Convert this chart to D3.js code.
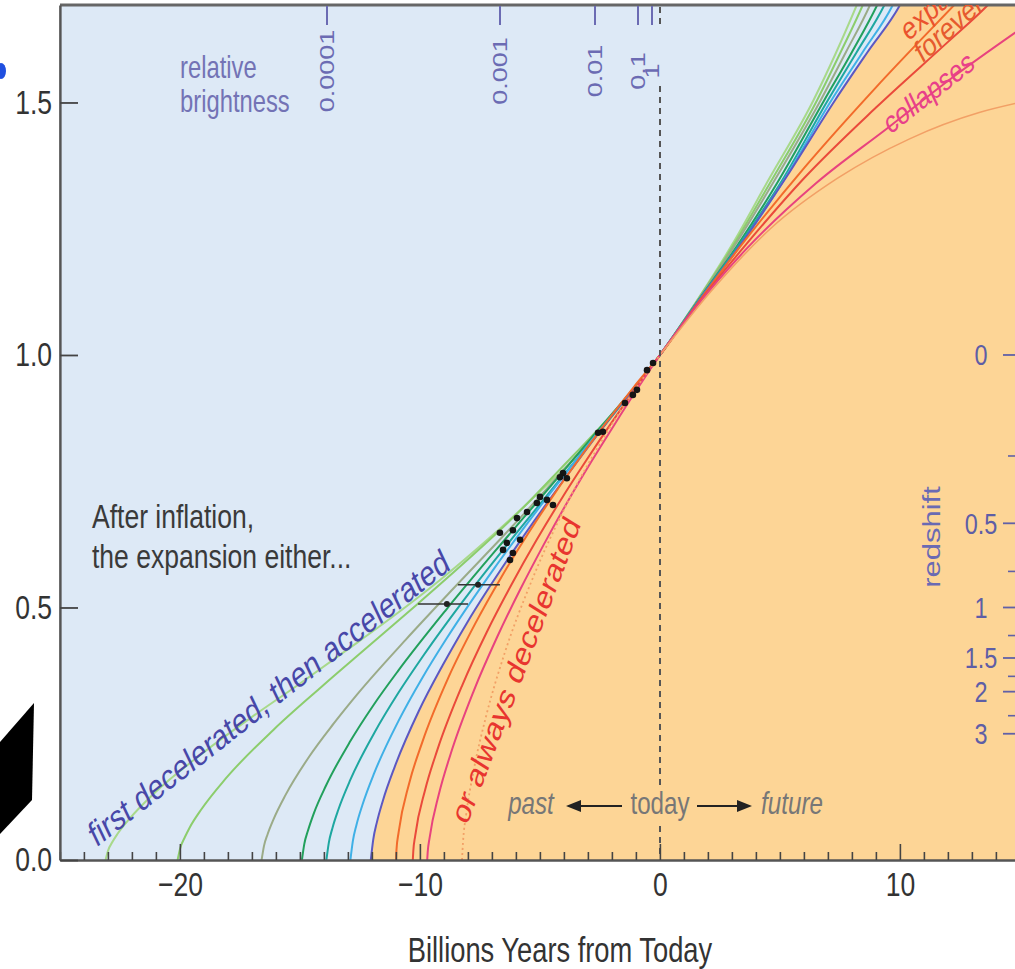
<!DOCTYPE html>
<html><head><meta charset="utf-8">
<script src="https://cdn.jsdelivr.net/npm/d3@7"></script>
<style>
body{margin:0;background:#fff;}
svg text{font-family:"Liberation Sans",Arial,Helvetica,sans-serif;}
</style>
</head><body>
<svg id="chart" width="1015" height="969"></svg>
<script>
// ---------------- data ----------------
// scale factor a versus billions of years from today, one array per model
const curve1 = [[-23.1,0],[-23.0,0.018],[-22.8,0.037],[-22.6,0.052],[-22.1,0.082],[-21.1,0.131],[-19.1,0.21],[-17.1,0.28],[-15.1,0.346],[-13.1,0.414],[-11.1,0.483],[-9.1,0.557],[-7.1,0.638],[-5.1,0.725],[-3.1,0.819],[-1.1,0.932],[0,1],[1.5,1.105],[3,1.218],[4.5,1.345],[6.4,1.505],[7.3,1.595],[8.2,1.693],[8.7,1.75]];
const curve2 = [[-20.1,0],[-20.0,0.022],[-19.8,0.045],[-19.6,0.064],[-19.1,0.101],[-18.1,0.161],[-16.1,0.258],[-14.1,0.343],[-12.1,0.425],[-10.1,0.507],[-8.1,0.591],[-6.1,0.679],[-4.1,0.777],[-2.1,0.878],[0,1],[1.5,1.104],[3.05,1.217],[4.6,1.342],[6.55,1.505],[7.5,1.597],[8.45,1.693],[8.95,1.75]];
const curve3 = [[-16.6,0],[-16.5,0.028],[-16.35,0.051],[-16.1,0.081],[-15.6,0.129],[-14.6,0.206],[-13.6,0.27],[-12.6,0.329],[-10.6,0.436],[-8.6,0.538],[-6.6,0.638],[-4.6,0.741],[-2.6,0.849],[0,1],[1.5,1.103],[3.1,1.216],[4.7,1.34],[6.7,1.505],[7.75,1.6],[8.75,1.693],[9.25,1.75]];
const curve4 = [[-14.92,0],[-14.82,0.032],[-14.67,0.058],[-14.42,0.093],[-13.92,0.147],[-12.92,0.234],[-11.92,0.308],[-10.92,0.374],[-8.92,0.495],[-6.92,0.609],[-4.92,0.72],[-2.92,0.832],[0,1],[1.5,1.102],[3.2,1.215],[4.85,1.338],[6.85,1.505],[8.0,1.6],[9.05,1.693],[9.6,1.75]];
const curve5 = [[-13.9,0],[-13.8,0.034],[-13.65,0.063],[-13.4,0.1],[-12.9,0.159],[-11.9,0.252],[-10.9,0.331],[-9.9,0.402],[-7.9,0.532],[-5.9,0.652],[-3.9,0.769],[-1.9,0.885],[0,1],[1.5,1.101],[3.25,1.215],[4.95,1.335],[7.0,1.505],[8.2,1.6],[9.35,1.693],[9.9,1.75]];
const curve6 = [[-12.9,0],[-12.8,0.037],[-12.65,0.069],[-12.4,0.109],[-11.9,0.173],[-10.9,0.275],[-9.9,0.361],[-8.9,0.438],[-6.9,0.578],[-4.9,0.706],[-2.9,0.828],[0,1],[1.5,1.1],[3.3,1.214],[5.15,1.345],[7.15,1.505],[8.45,1.6],[9.7,1.693],[10.25,1.75]];
const curve7 = [[-12.05,0],[-11.95,0.04],[-11.8,0.074],[-11.55,0.117],[-11.05,0.185],[-10.05,0.295],[-9.05,0.386],[-8.05,0.469],[-6.05,0.616],[-4.05,0.75],[-2.05,0.877],[0,1],[1.5,1.1],[3.35,1.218],[5.3,1.355],[7.3,1.505],[8.65,1.6],[10.0,1.693],[10.6,1.75]];
const curve8 = [[-11.0,0],[-10.98,0.02],[-10.89,0.055],[-10.45,0.152],[-9.9,0.234],[-8.8,0.363],[-7.7,0.468],[-6.6,0.561],[-5.5,0.646],[-4.4,0.725],[-3.3,0.799],[-2.2,0.869],[-1.1,0.936],[0,1],[1.5,1.098],[3.3,1.212],[6,1.37],[9,1.53],[12.4,1.70],[13,1.73]];
const curve9 = [[-10.3,0],[-10.28,0.017],[-10.2,0.048],[-9.785,0.139],[-9.27,0.219],[-8.24,0.346],[-7.21,0.452],[-6.18,0.546],[-5.15,0.633],[-4.12,0.714],[-3.09,0.79],[-2.06,0.863],[-1.03,0.933],[0,1],[1.5,1.097],[3.5,1.214],[6,1.35],[9,1.49],[12,1.62],[13.6,1.69],[14.2,1.72]];
const curve10 = [[-9.7,0],[-9.68,0.015],[-9.6,0.044],[-9.215,0.13],[-8.73,0.209],[-7.76,0.335],[-6.79,0.441],[-5.82,0.536],[-4.85,0.624],[-3.88,0.707],[-2.91,0.785],[-1.94,0.859],[-0.97,0.931],[0,1],[1.5,1.095],[3.6,1.21],[6.5,1.34],[9.5,1.45],[12.2,1.55],[15,1.645]];
const curve11 = [[-8.25,0],[-8.21,0.034],[-8.07,0.092],[-7.77,0.176],[-7.25,0.284],[-6.47,0.41],[-5.38,0.549],[-3.97,0.697],[-2.21,0.847],[0,1],[2.2,1.13],[4.6,1.25],[7.4,1.35],[10.4,1.428],[13.3,1.48],[15,1.5]];

// supernova measurements
const snYears = [-0.29,-0.54,-0.96,-1.13,-1.46,-2.38,-2.58,-4.04,-4.17,-3.88,-5.0,-4.71,-5.13,-4.46,-5.96,-5.54,-6.67,-6.13,-6.38,-5.83,-6.54,-6.13,-6.25];
const snScale = [0.984,0.970,0.931,0.921,0.905,0.848,0.846,0.766,0.758,0.756,0.719,0.713,0.707,0.703,0.677,0.689,0.648,0.653,0.628,0.634,0.614,0.608,0.594];
const binYears = [-7.58,-8.88];
const binScale = [0.545,0.507];
const binLow = [-8.42,-10.08];
const binHigh = [-6.67,-8.0];

// axes
const xTickValues = d3.range(-25, 16, 1);
const xLabelValues = [-20, -10, 0, 10];
const yTickValues = [0, 0.5, 1.0, 1.5];
const brightnessLabels = ["0.0001", "0.001", "0.01", "0.1", "1"];
const brightnessYears = [-13.875, -6.667, -2.708, -0.917, -0.333];
const redshiftMajor = [0, 0.5, 1, 1.5, 2, 3];
const redshiftMinor = [0.25, 0.75, 1.25, 1.75, 2.5];

// ---------------- styles ----------------
const curves = [curve1,curve2,curve3,curve4,curve5,curve6,curve7,curve8,curve9,curve10,curve11];
const curveColors = ["#a8d98a","#8ccd6c","#9bab88","#22a05c","#1ea7a0","#3fb0e6","#5c58c2","#f26b2b","#ea4a3b","#e8437e","#f2a066"];
const k = 0.78;            // horizontal squash of the original picture
const W = 1015, H = 969;
const px = v => v / k;     // screen px -> squashed group units

const svg = d3.select("#chart");
svg.append("rect").attr("width", W).attr("height", H).attr("fill", "#ffffff");
const g = svg.append("g").attr("transform", `scale(${k},1)`);

const x = d3.scaleLinear().domain([-25, 15]).range([px(60), px(1020)]);
const y = d3.scaleLinear().domain([0, 1.693]).range([860, 5]);

const defs = svg.append("defs");
defs.append("clipPath").attr("id", "plotClip").append("rect")
  .attr("x", x(-25)).attr("y", y(1.693)).attr("width", x(15) - x(-25)).attr("height", y(0) - y(1.693));

const plot = g.append("g").attr("clip-path", "url(#plotClip)");
plot.append("rect").attr("x", x(-25)).attr("y", y(1.693)).attr("width", x(15) - x(-25)).attr("height", y(0) - y(1.693)).attr("fill", "#dde9f6");

const line = d3.line().x(d => x(d[0])).y(d => y(d[1])).curve(d3.curveMonotoneX);

// orange (always-decelerating side) region bounded by curve7
const last = curve7[curve7.length - 1];
plot.append("path")
  .attr("d", line(curve7) + `L${x(15)},${y(last[1])}L${x(15)},${y(0)}Z`)
  .attr("fill", "#fdd596");

// curves
curves.forEach((c, i) => {
  if (i === 10) {
    plot.append("path").attr("d", line(c.filter(d => d[0] <= 0)))
      .attr("fill", "none").attr("stroke", curveColors[i]).attr("stroke-width", 1.8)
      .attr("stroke-dasharray", "2,3").attr("vector-effect", "non-scaling-stroke");
    plot.append("path").attr("d", line(c.filter(d => d[0] >= 0)))
      .attr("fill", "none").attr("stroke", curveColors[i]).attr("stroke-width", 1.5)
      .attr("vector-effect", "non-scaling-stroke");
  } else {
    plot.append("path").attr("d", line(c))
      .attr("fill", "none").attr("stroke", curveColors[i]).attr("stroke-width", 2)
      .attr("vector-effect", "non-scaling-stroke");
  }
});

// today dashed line
[[7, 27], [86, 785], [826, 858]].forEach(s => {
  g.append("line").attr("x1", x(0)).attr("x2", x(0)).attr("y1", s[0]).attr("y2", s[1])
    .attr("stroke", "#555").attr("stroke-width", 2).attr("stroke-dasharray", "6,5")
    .attr("vector-effect", "non-scaling-stroke");
});

// supernova data
binYears.forEach((v, i) => {
  g.append("line").attr("x1", x(binLow[i])).attr("x2", x(binHigh[i])).attr("y1", y(binScale[i])).attr("y2", y(binScale[i]))
    .attr("stroke", "#333").attr("stroke-width", 1.5).attr("vector-effect", "non-scaling-stroke");
  g.append("ellipse").attr("cx", x(v)).attr("cy", y(binScale[i])).attr("rx", px(3)).attr("ry", 3).attr("fill", "#222");
});
snYears.forEach((v, i) => {
  g.append("ellipse").attr("cx", x(v)).attr("cy", y(snScale[i])).attr("rx", px(3.3)).attr("ry", 3.3).attr("fill", "#151515");
});

// frame
g.append("line").attr("x1", x(-25)).attr("x2", px(1015)).attr("y1", 5).attr("y2", 5)
  .attr("stroke", "#666").attr("stroke-width", 3).attr("vector-effect", "non-scaling-stroke");

// bottom axis
const xAxis = g.append("g").attr("transform", `translate(0,${y(0)})`)
  .call(d3.axisBottom(x).tickValues(xTickValues).tickSize(-8).tickSizeOuter(0).tickPadding(12)
    .tickFormat(d => xLabelValues.includes(d) ? d3.format("")(d) : ""));
xAxis.select(".domain").attr("stroke", "#555").attr("stroke-width", 2.5).attr("vector-effect", "non-scaling-stroke");
xAxis.selectAll(".tick line").attr("stroke", "#444").attr("stroke-width", 1.6).attr("vector-effect", "non-scaling-stroke")
  .filter(d => d % 10 === 0).attr("y2", -16);
xAxis.selectAll(".tick text").attr("font-size", 34).attr("fill", "#333");

// left axis
const yAxis = g.append("g").attr("transform", `translate(${x(-25)},0)`)
  .call(d3.axisLeft(y).tickValues(yTickValues).tickSize(-px(18)).tickSizeOuter(0).tickPadding(px(8)).tickFormat(d3.format(".1f")));
yAxis.select(".domain").attr("stroke", "#555").attr("stroke-width", 2.5).attr("vector-effect", "non-scaling-stroke");
yAxis.selectAll(".tick line").attr("stroke", "#444").attr("stroke-width", 1.8).attr("vector-effect", "non-scaling-stroke");
yAxis.selectAll(".tick text").attr("font-size", 34).attr("fill", "#333");

// top relative-brightness scale
brightnessYears.forEach((v, i) => {
  g.append("line").attr("x1", x(v)).attr("x2", x(v)).attr("y1", 6).attr("y2", 25)
    .attr("stroke", "#6b6bb3").attr("stroke-width", 2).attr("vector-effect", "non-scaling-stroke");
  g.append("text").attr("transform", `translate(${x(v)},71) rotate(-90)`)
    .attr("text-anchor", "middle").attr("dy", "0.35em").attr("font-size", 27).attr("fill", "#6b6bb3")
    .text(brightnessLabels[i]);
});
g.append("text").attr("x", px(180)).attr("y", 78).attr("font-size", 30.5).attr("fill", "#7373b5").text("relative");
g.append("text").attr("x", px(180)).attr("y", 112).attr("font-size", 30.5).attr("fill", "#7373b5").text("brightness");

// right redshift scale
const zy = z => y(1 / (1 + z));
redshiftMajor.forEach(z => {
  g.append("line").attr("x1", px(1003)).attr("x2", px(1015)).attr("y1", zy(z)).attr("y2", zy(z))
    .attr("stroke", "#6060a8").attr("stroke-width", 1.8).attr("vector-effect", "non-scaling-stroke");
  g.append("text").attr("x", px(981)).attr("y", zy(z)).attr("dy", "0.35em").attr("text-anchor", "middle")
    .attr("font-size", 30).attr("fill", "#5e5ea6").text(d3.format("")(z));
});
redshiftMinor.forEach(z => {
  g.append("line").attr("x1", px(1008)).attr("x2", px(1015)).attr("y1", zy(z)).attr("y2", zy(z))
    .attr("stroke", "#6060a8").attr("stroke-width", 1.6).attr("vector-effect", "non-scaling-stroke");
});
g.append("text").attr("transform", `translate(${px(932)},537) rotate(-90)`).attr("text-anchor", "middle").attr("dy", "0.35em")
  .attr("font-size", 31).attr("fill", "#6a6ab3").text("redshift");

// annotations
g.append("text").attr("x", px(92)).attr("y", 528).attr("font-size", 34).attr("fill", "#3a3a3a").text("After inflation,");
g.append("text").attr("x", px(92)).attr("y", 568).attr("font-size", 34).attr("fill", "#3a3a3a").text("the expansion either...");

g.append("text").attr("transform", `translate(${px(96)},848) rotate(-31.5)`).attr("font-size", 35.5).attr("fill", "#4747a8")
  .text("first decelerated, then accelerated");
g.append("text").attr("transform", `translate(${px(467)},826) rotate(-64.1)`).attr("font-size", 34.5).attr("fill", "#e8352f")
  .text("or always decelerated");

const topText = g.append("g").attr("clip-path", "url(#plotClip)");
topText.append("text").attr("transform", `translate(${px(908)},42) rotate(-34.7)`).attr("font-size", 31.6).attr("fill", "#ea522e").text("expands");
topText.append("text").attr("transform", `translate(${px(922)},64) rotate(-34.7)`).attr("font-size", 31.6).attr("fill", "#e65a2e").text("forever");
topText.append("text").attr("transform", `translate(${px(890)},135) rotate(-31.4)`).attr("font-size", 31).attr("fill", "#e8408a").text("collapses");

// past / today / future
g.append("text").attr("x", px(531)).attr("y", 814).attr("text-anchor", "middle").attr("font-size", 31).attr("font-style", "italic").attr("fill", "#777").text("past");
g.append("text").attr("x", x(0)).attr("y", 814).attr("text-anchor", "middle").attr("font-size", 31).attr("fill", "#777").text("today");
g.append("text").attr("x", px(792)).attr("y", 814).attr("text-anchor", "middle").attr("font-size", 31).attr("font-style", "italic").attr("fill", "#777").text("future");

// x axis title
g.append("text").attr("x", px(560)).attr("y", 962).attr("text-anchor", "middle").attr("font-size", 35).attr("fill", "#333").text("Billions Years from Today");

// arrows (screen space)
svg.append("line").attr("x1", 622).attr("x2", 576).attr("y1", 806).attr("y2", 806).attr("stroke", "#222").attr("stroke-width", 2);
svg.append("path").attr("d", "M566,806L581,800L581,812Z").attr("fill", "#222");
svg.append("line").attr("x1", 697).attr("x2", 742).attr("y1", 806).attr("y2", 806).attr("stroke", "#222").attr("stroke-width", 2);
svg.append("path").attr("d", "M752,806L737,800L737,812Z").attr("fill", "#222");

// stray slide decorations
svg.append("path").attr("d", "M0,742L34,703L32,800L0,834Z").attr("fill", "#000");
svg.append("ellipse").attr("cx", 1).attr("cy", 71).attr("rx", 5).attr("ry", 8).attr("fill", "#1f4fe0");
</script>
</body></html>
